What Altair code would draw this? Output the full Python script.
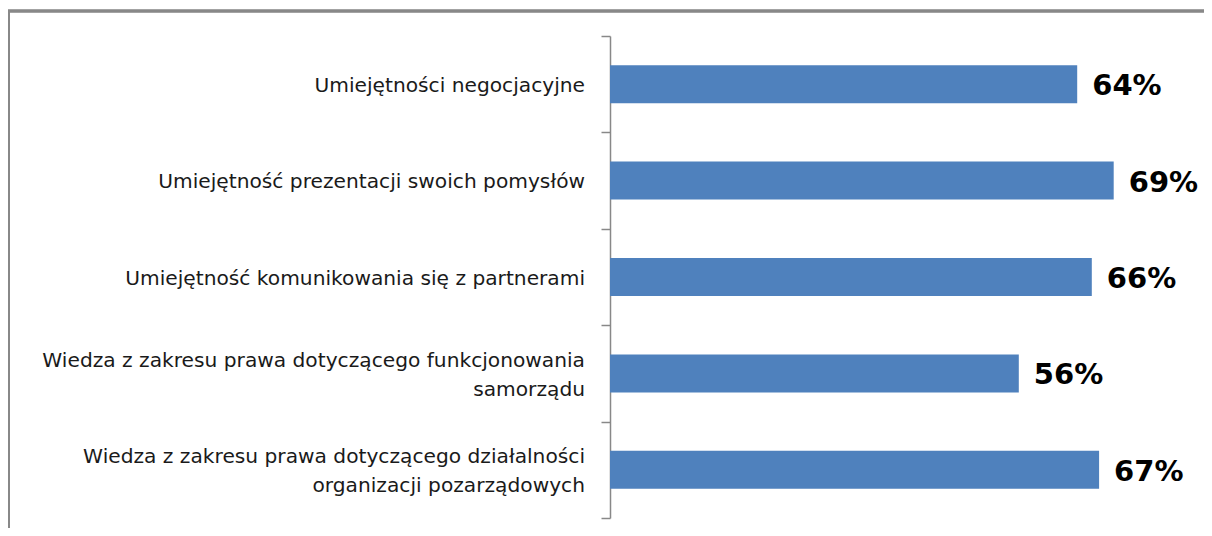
import altair as alt
import pandas as pd

categories = [
    "Umiejętności negocjacyjne",
    "Umiejętność prezentacji swoich pomysłów",
    "Umiejętność komunikowania się z partnerami",
    "Wiedza z zakresu prawa dotyczącego funkcjonowania|samorządu",
    "Wiedza z zakresu prawa dotyczącego działalności|organizacji pozarządowych",
]
values = [64, 69, 66, 56, 67]

df = pd.DataFrame({"cat": categories, "val": values})
df["label"] = df["val"].astype(str) + "%"

W = 584
H = 482
HALF_STEP = H / len(categories) / 2

y_scale = alt.Scale(paddingInner=0, paddingOuter=0)
y_enc = alt.Y(
    "cat:N",
    sort=categories,
    title=None,
    scale=y_scale,
    axis=alt.Axis(
        labels=False,
        tickBand="extent",
        tickSize=9,
        tickColor="#888888",
        domainColor="#888888",
        domainWidth=1.5,
        tickWidth=1.5,
        grid=False,
    ),
)
x_enc = alt.X("val:Q", scale=alt.Scale(domain=[0, 80]), axis=None)

bars = alt.Chart(df).mark_bar(color="#4F81BD", size=38).encode(x=x_enc, y=y_enc)
texts = alt.Chart(df).mark_text(
    align="left", baseline="middle", dx=15, dy=2,
    font="DejaVu Sans", fontWeight="bold", fontSize=29, color="#000000",
).encode(x=x_enc, y=alt.Y("cat:N", sort=categories), text="label:N")

cat_labels = alt.Chart(df).transform_calculate(
    off=f"indexof(datum.cat, '|') >= 0 ? {HALF_STEP - 12.5} : {HALF_STEP + 1.5}"
).mark_text(
    align="right", baseline="middle", lineBreak="|", lineHeight=29,
    font="DejaVu Sans", fontSize=20.2, color="#1a1a1a",
).encode(
    x=alt.value(-25),
    y=alt.Y("cat:N", sort=categories),
    yOffset=alt.YOffset("off:Q", scale=None),
    text="cat:N",
)

border_top = alt.Chart(df).mark_rule(color="#888888", strokeWidth=2.5).encode(
    x=alt.value(-602), x2=alt.value(W + 60), y=alt.value(-25)
)
border_left = alt.Chart(df).mark_rule(color="#888888", strokeWidth=2.5).encode(
    x=alt.value(-601.5), y=alt.value(-25), y2=alt.value(H + 60)
)

chart = alt.layer(border_top, border_left, bars, texts, cat_labels).properties(
    width=W, height=H,
    background="white",
    autosize=alt.AutoSizeParams(type="none"),
    padding={"left": 602, "top": 28, "right": 10, "bottom": 10},
).configure_view(stroke=None)

chart.save("out.html", embed_options={"renderer": "svg", "actions": False})
